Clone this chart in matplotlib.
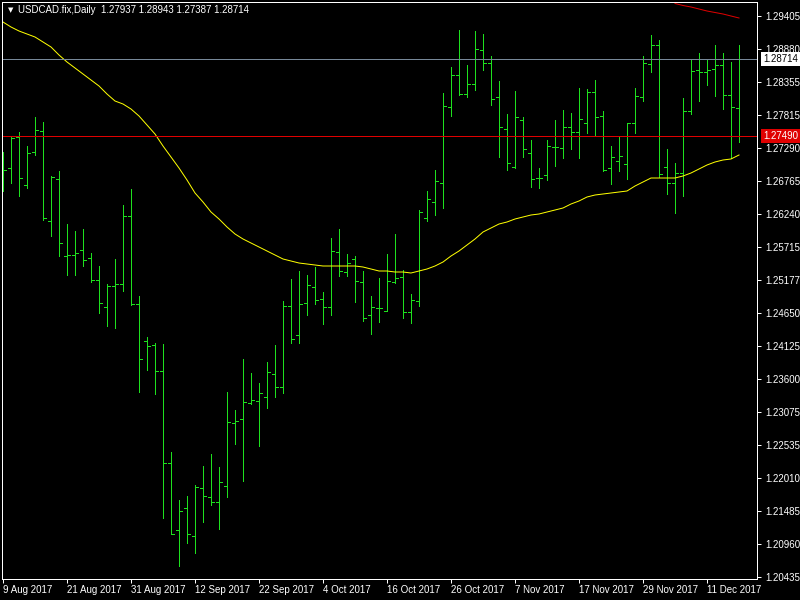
import numpy as np
import pandas as pd
import matplotlib
matplotlib.use("Agg")
import matplotlib.pyplot as plt

# daily OHLC, USDCAD 9 Aug 2017 .. 15 Dec 2017
opens = [1.26781, 1.26973, 1.27469, 1.26701, 1.27229, 1.27565, 1.26125, 1.26797, 1.25565, 1.25581,
         1.25661, 1.25533, 1.25181, 1.24749, 1.25085, 1.25117, 1.26205, 1.24797, 1.24205, 1.24141,
         1.23725, 1.22253, 1.21181, 1.21533, 1.21085, 1.21853, 1.21709, 1.21629, 1.21885, 1.22893,
         1.22957, 1.23213, 1.23245, 1.23309, 1.23677, 1.23469, 1.24765, 1.24301, 1.24813, 1.25069,
         1.24877, 1.24749, 1.25629, 1.25309, 1.25517, 1.25149, 1.24621, 1.24733, 1.24685, 1.25149,
         1.25229, 1.24669, 1.24845, 1.26173, 1.26429, 1.26733, 1.27949, 1.28461, 1.28157, 1.28317,
         1.28861, 1.28653, 1.28109, 1.27597, 1.26989, 1.27741, 1.27213, 1.26813, 1.26861, 1.27309,
         1.27293, 1.27629, 1.27549, 1.27693, 1.28189, 1.27805, 1.26973, 1.27085, 1.27037, 1.27693,
         1.28109, 1.28637, 1.28941, 1.26989, 1.26733, 1.26893, 1.27885, 1.28541, 1.28509, 1.28557,
         1.28621, 1.28141, 1.27937]
highs = [1.27229, 1.27469, 1.27549, 1.27325, 1.27789, 1.27709, 1.26845, 1.26925, 1.26077, 1.25965,
         1.25997, 1.25613, 1.25405, 1.25117, 1.25517, 1.26381, 1.26637, 1.24925, 1.24269, 1.24173,
         1.24157, 1.22429, 1.21661, 1.21725, 1.21901, 1.22205, 1.22397, 1.22189, 1.23389, 1.23101,
         1.23917, 1.23693, 1.23533, 1.23869, 1.24141, 1.24845, 1.25197, 1.25325, 1.25261, 1.25389,
         1.24989, 1.25853, 1.25997, 1.25597, 1.25565, 1.25325, 1.24925, 1.25213, 1.25597, 1.25917,
         1.25341, 1.24957, 1.26301, 1.26605, 1.26941, 1.28173, 1.28589, 1.29181, 1.28621, 1.29165,
         1.29117, 1.28765, 1.28365, 1.27837, 1.28205, 1.27789, 1.27421, 1.26973, 1.27421, 1.27741,
         1.27901, 1.27853, 1.28253, 1.28237, 1.28381, 1.27885, 1.27325, 1.27485, 1.27693, 1.28253,
         1.28765, 1.29101, 1.29021, 1.27277, 1.27053, 1.28093, 1.28701, 1.28813, 1.28701, 1.28941,
         1.28813, 1.28669, 1.28943]
lows = [1.26605, 1.26733, 1.26525, 1.26653, 1.27181, 1.26141, 1.25885, 1.25565, 1.25261, 1.25261,
        1.25405, 1.25149, 1.24653, 1.24445, 1.24413, 1.25005, 1.24781, 1.23389, 1.23741, 1.23357,
        1.21373, 1.21117, 1.20605, 1.20973, 1.20813, 1.21309, 1.21581, 1.21197, 1.21709, 1.22557,
        1.21965, 1.23197, 1.22525, 1.23133, 1.23309, 1.23373, 1.24173, 1.24173, 1.24621, 1.24797,
        1.24477, 1.24621, 1.25245, 1.25245, 1.24829, 1.24525, 1.24317, 1.24509, 1.24685, 1.25133,
        1.24573, 1.24493, 1.24765, 1.26125, 1.26221, 1.26333, 1.27805, 1.28141, 1.28109, 1.28221,
        1.28541, 1.27981, 1.27149, 1.26941, 1.26973, 1.27149, 1.26669, 1.26653, 1.26781, 1.27005,
        1.27133, 1.27277, 1.27133, 1.27533, 1.27501, 1.26925, 1.26717, 1.26925, 1.26797, 1.27533,
        1.28045, 1.28509, 1.26829, 1.26557, 1.26253, 1.26525, 1.27837, 1.28045, 1.28301, 1.28125,
        1.27917, 1.27133, 1.27387]
closes = [1.26941, 1.27453, 1.26813, 1.27213, 1.27581, 1.26173, 1.26829, 1.25773, 1.25581, 1.25613,
          1.25501, 1.25181, 1.24813, 1.25085, 1.25117, 1.26205, 1.24797, 1.23917, 1.24125, 1.23725,
          1.22253, 1.21117, 1.21485, 1.21117, 1.21869, 1.21725, 1.21629, 1.21949, 1.22909, 1.22925,
          1.23229, 1.23261, 1.23373, 1.23709, 1.23469, 1.24765, 1.24237, 1.24797, 1.25101, 1.24861,
          1.24749, 1.25645, 1.25325, 1.25453, 1.25165, 1.24573, 1.24749, 1.24733, 1.25165, 1.25213,
          1.24669, 1.24861, 1.26269, 1.26477, 1.26765, 1.27965, 1.28461, 1.28157, 1.28317, 1.28877,
          1.28653, 1.28077, 1.27629, 1.27053, 1.27789, 1.27277, 1.26797, 1.26813, 1.27325, 1.27309,
          1.27629, 1.27549, 1.27757, 1.28189, 1.27789, 1.26941, 1.27149, 1.27165, 1.27693, 1.28125,
          1.28653, 1.28941, 1.26877, 1.26733, 1.26893, 1.27885, 1.28525, 1.28509, 1.28541, 1.28621,
          1.28141, 1.27949, 1.28714]

# moving averages
ma_yellow = [1.29309, 1.29229, 1.29165, 1.29117, 1.29069, 1.28989, 1.28909, 1.28781, 1.28669, 1.28573,
             1.28477, 1.28381, 1.28285, 1.28157, 1.28045, 1.27997, 1.27917, 1.27805, 1.27661, 1.27517,
             1.27325, 1.27149, 1.26973, 1.26781, 1.26573, 1.26429, 1.26269, 1.26157, 1.26029, 1.25917,
             1.25837, 1.25773, 1.25709, 1.25645, 1.25581, 1.25517, 1.25485, 1.25453, 1.25437, 1.25421,
             1.25405, 1.25405, 1.25405, 1.25405, 1.25405, 1.25389, 1.25357, 1.25325, 1.25325, 1.25309,
             1.25309, 1.25293, 1.25325, 1.25357, 1.25405, 1.25469, 1.25565, 1.25645, 1.25741, 1.25837,
             1.25949, 1.26013, 1.26077, 1.26109, 1.26157, 1.26189, 1.26221, 1.26237, 1.26269, 1.26301,
             1.26333, 1.26397, 1.26445, 1.26509, 1.26541, 1.26557, 1.26573, 1.26589, 1.26605, 1.26685,
             1.26749, 1.26813, 1.26813, 1.26813, 1.26813, 1.26845, 1.26893, 1.26957, 1.27021, 1.27069,
             1.27101, 1.27117, 1.27181]
ma_red_start = 84
ma_red = [1.29605, 1.29573, 1.29549, 1.29517, 1.29485, 1.29461, 1.29437, 1.29405, 1.29373]

price_ticks = [1.29405, 1.28880, 1.28355, 1.27815, 1.27290, 1.26765, 1.26240, 1.25715, 1.25177,
               1.24650, 1.24125, 1.23600, 1.23075, 1.22535, 1.22010, 1.21485, 1.20960, 1.20435]
bid = 1.28714
ask = 1.27490
dates = pd.bdate_range("2017-08-09", periods=len(opens))

GREEN = "#1ee01e"
FONT = "Liberation Sans"
LW = 0.72

fig = plt.figure(figsize=(8, 6), dpi=100, facecolor="black")
ax = fig.add_axes([2 / 800, 21 / 600, 755 / 800, 577 / 600], facecolor="black")

x = np.arange(len(opens))
ax.vlines(x, lows, highs, color=GREEN, lw=LW, antialiased=False)
ax.hlines(opens, x - 0.375, x, color=GREEN, lw=LW, antialiased=False)
ax.hlines(closes, x, x + 0.375, color=GREEN, lw=LW, antialiased=False)

ax.plot(x, ma_yellow, color="#ffff00", lw=LW)
xr = np.arange(ma_red_start, ma_red_start + len(ma_red))
ax.plot(xr, ma_red, color="#e00000", lw=LW)

ax.axhline(bid, color="#778899", lw=LW)
ax.axhline(ask, color="#e00000", lw=LW)

ax.set_xlim(-0.125, 94.25)
ax.set_ylim(1.20397, 1.29629)

for s in ax.spines.values():
    s.set_color("white")
    s.set_linewidth(LW)

ax.yaxis.tick_right()
ax.set_yticks(price_ticks)
ax.set_yticklabels([f"{p:.5f}" for p in price_ticks])
ax.tick_params(axis="y", colors="white", length=3, width=LW, pad=3, labelsize=7)

tick_pos = list(range(0, len(opens), 8))
ax.set_xticks(tick_pos)
ax.set_xticklabels([f"{dates[i].day} {dates[i].strftime('%b %Y')}" for i in tick_pos])
ax.tick_params(axis="x", colors="white", length=3, width=LW, pad=1, labelsize=7)
for lbl in ax.get_xticklabels() + ax.get_yticklabels():
    lbl.set_fontfamily(FONT)
for lbl in ax.get_xticklabels():
    lbl.set_horizontalalignment("left")

# current price labels on the price axis
ax.annotate(f"{bid:.5f}", xy=(1, bid), xycoords=("axes fraction", "data"),
            xytext=(4.5, 0), textcoords="offset points", va="center", ha="left",
            fontsize=7, family=FONT, color="black",
            bbox=dict(boxstyle="square,pad=0.2", fc="white", ec="none"))
ax.annotate(f"{ask:.5f}", xy=(1, ask), xycoords=("axes fraction", "data"),
            xytext=(4.5, 0), textcoords="offset points", va="center", ha="left",
            fontsize=7, family=FONT, color="white",
            bbox=dict(boxstyle="square,pad=0.2", fc="#e00000", ec="none"))

fig.text(8 / 800, 1 - 10 / 600, "\u25bc", color="white", fontsize=5,
         family="DejaVu Sans", va="center", ha="left")
fig.text(18 / 800, 1 - 10 / 600,
         f"USDCAD.fix,Daily  {opens[-1]:.5f} {highs[-1]:.5f} {lows[-1]:.5f} {closes[-1]:.5f}",
         color="white", fontsize=7, family=FONT, va="center", ha="left")

fig.savefig("out.png", dpi=100, facecolor="black")
